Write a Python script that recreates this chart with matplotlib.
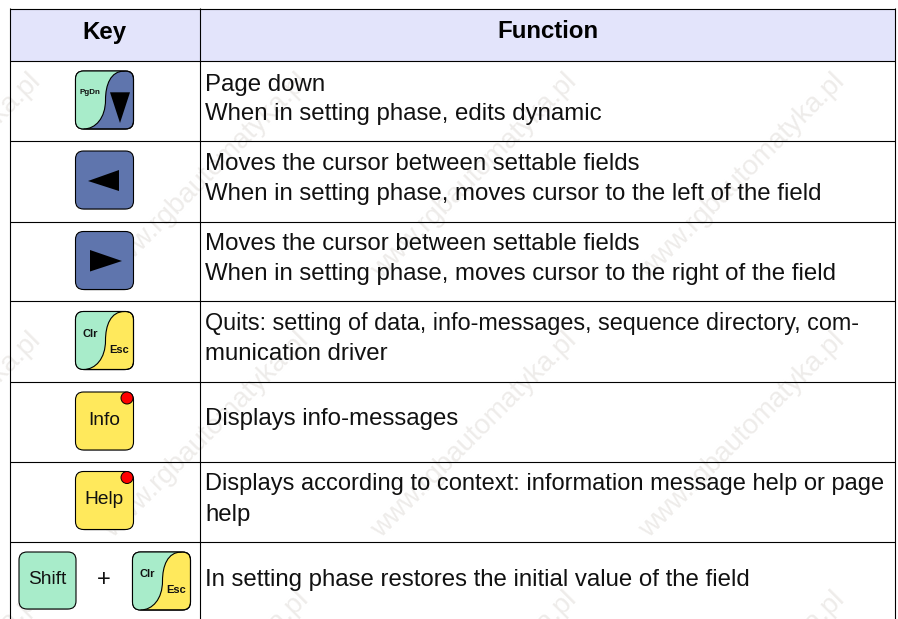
import matplotlib
matplotlib.use("Agg")
import matplotlib.pyplot as plt
from matplotlib.patches import FancyBboxPatch, PathPatch, Polygon, Rectangle, Circle
from matplotlib.path import Path

plt.rcParams['font.family'] = ['Liberation Sans', 'DejaVu Sans']

headers = ["Key", "Function"]
function_lines = [
    ["Page down", "When in setting phase, edits dynamic"],
    ["Moves the cursor between settable fields",
     "When in setting phase, moves cursor to the left of the field"],
    ["Moves the cursor between settable fields",
     "When in setting phase, moves cursor to the right of the field"],
    ["Quits: setting of data, info-messages, sequence directory, com-",
     "munication driver"],
    ["Displays info-messages"],
    ["Displays according to context: information message help or page",
     "help"],
    ["In setting phase restores the initial value of the field"],
]
text_baselines = [[91, 120], [170, 200], [250, 280], [330, 360.5], [425], [490, 520.5], [586]]
# the two longest lines are set a little tighter in the original
text_sizes = [[17.25, 17.25], [17.25, 17.25], [17.25, 17.25], [16.87, 17.25], [17.25], [17.0, 17.25], [17.25]]
row_lines = [8.5, 61, 141, 221.5, 301, 382, 462, 542]
key_tops = [71, 151, 231.5, 311.5, 392, 471.5]

BLUE = '#5f75ad'
GREEN = '#a8ecca'
YELLOW = '#ffe95c'
HEADER = '#e3e4fb'
INK = '#111111'


def rounded(ax, x, y, w, h, color, zorder=3):
    # soft grey shadow first, then the key body
    ax.add_patch(FancyBboxPatch((x + 5, y + 6), w - 10, h - 5,
                                boxstyle="round,pad=0,rounding_size=5",
                                fc='#c4c4c4', ec='none', zorder=zorder - 1))
    box = FancyBboxPatch((x + 7, y + 7), w - 14, h - 14,
                         boxstyle="round,pad=7,rounding_size=8",
                         fc=color, ec='black', lw=0.8, zorder=zorder)
    ax.add_patch(box)
    return box


def split_key(ax, x, y, left, right):
    box = rounded(ax, x, y, 58, 58, right)
    verts = [(x + 49, y), (x + 35, y), (x + 30, y + 14), (x + 30, y + 29),
             (x + 30, y + 47), (x + 20, y + 58), (x + 8, y + 58),
             (x - 2, y + 58), (x - 2, y), (x + 49, y)]
    codes = [Path.MOVETO, Path.CURVE4, Path.CURVE4, Path.CURVE4,
             Path.CURVE4, Path.CURVE4, Path.CURVE4,
             Path.LINETO, Path.LINETO, Path.CLOSEPOLY]
    fill = PathPatch(Path(verts, codes), fc=left, ec='none', zorder=3.1)
    ax.add_patch(fill)
    fill.set_clip_path(box)
    edge = PathPatch(Path(verts[:7], codes[:7]), fc='none', ec='black', lw=0.8, zorder=3.2)
    ax.add_patch(edge)
    edge.set_clip_path(box)
    ax.add_patch(FancyBboxPatch((x + 7, y + 7), 44, 44,
                                boxstyle="round,pad=7,rounding_size=8",
                                fc='none', ec='black', lw=0.8, zorder=3.3))


def key_text(ax, x, y, s, size, weight='normal'):
    ax.text(x, y, s, fontsize=size, fontweight=weight, ha='center', va='center',
            color=INK, zorder=4)


def main():
    fig = plt.figure(figsize=(8.98, 6.19), dpi=100)
    ax = fig.add_axes([0, 0, 1, 1])
    ax.set_xlim(0, 898)
    ax.set_ylim(619, 0)
    ax.axis('off')

    ax.add_patch(Rectangle((9.5, 8.5), 885, 52.5, fc=HEADER, ec='none', zorder=0))

    # repeating watermark
    for ex in [37, 305, 573, 841]:
        for ey in [78, 337, 596]:
            ax.text(ex, ey, "www.rgbautomatyka.pl", fontsize=20, color='#eeecea',
                    rotation=45, rotation_mode='anchor', ha='right', va='center',
                    zorder=1, clip_on=True)

    # grid
    for y in row_lines:
        ax.plot([9.5, 894.5], [y, y], color='black', lw=0.8, zorder=2, solid_capstyle='butt')
    for x in [9.5, 199.5, 894.5]:
        ax.plot([x, x], [8, 619], color='black', lw=0.8, zorder=2, solid_capstyle='butt')

    ax.text(104, 38.5, headers[0], fontsize=17.25, fontweight='bold', ha='center', va='baseline')
    ax.text(547.5, 38.5, headers[1], fontsize=17.25, fontweight='bold', ha='center', va='baseline')

    for lines, bases, sizes in zip(function_lines, text_baselines, text_sizes):
        for s, b, fs in zip(lines, bases, sizes):
            ax.text(205, b, s, fontsize=fs, ha='left', va='baseline', color=INK, zorder=4)

    kx = 75.5

    # PgDn
    split_key(ax, kx, key_tops[0], GREEN, BLUE)
    key_text(ax, kx + 14.5, key_tops[0] + 21.5, "PgDn", 5.8, 'bold')
    ax.add_patch(Polygon([(110, 92.3), (130, 92.3), (120, 123)], fc='black', ec='none', zorder=4))

    # arrows
    rounded(ax, kx, key_tops[1], 58, 58, BLUE)
    ax.add_patch(Polygon([(88, 181), (119, 170), (119, 191)], fc='black', ec='none', zorder=4))
    rounded(ax, kx, key_tops[2], 58, 58, BLUE)
    ax.add_patch(Polygon([(90, 250), (90, 271.5), (122, 261)], fc='black', ec='none', zorder=4))

    # Clr / Esc
    split_key(ax, kx, key_tops[3], GREEN, YELLOW)
    key_text(ax, 90.5, 334, "Clr", 8, 'bold')
    key_text(ax, 119, 350, "Esc", 8, 'bold')

    # Info / Help with the red led
    for top, label in [(key_tops[4], "Info"), (key_tops[5], "Help")]:
        rounded(ax, kx, top, 58, 58, YELLOW)
        ax.add_patch(Circle((127, top + 6), 6, fc='#ff0000', ec='black', lw=0.7, zorder=4))
        key_text(ax, 104, top + 28.5, label, 13.8)

    # Shift + Clr/Esc
    rounded(ax, 19, 552, 57, 57, GREEN)
    key_text(ax, 47, 579.5, "Shift", 13.8)
    key_text(ax, 104, 580, "+", 17)
    split_key(ax, 132.5, 552, GREEN, YELLOW)
    key_text(ax, 147, 574, "Clr", 8, 'bold')
    key_text(ax, 176, 590, "Esc", 8, 'bold')

    fig.savefig("out.png", dpi=100)
    plt.close(fig)


if __name__ == "__main__":
    main()
